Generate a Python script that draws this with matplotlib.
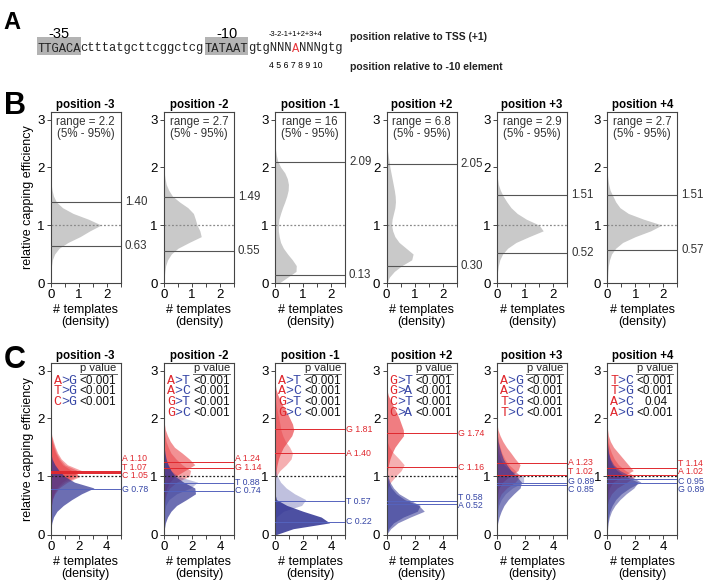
import numpy as np
import matplotlib
matplotlib.use("Agg")
import matplotlib.pyplot as plt
from matplotlib.patches import Rectangle
import matplotlib.transforms as mtransforms

plt.rcParams.update({"font.family": ["Liberation Sans", "DejaVu Sans"], "font.size": 9})

W, H = 711, 588
MONO = "Liberation Mono"
RED = "#e8383d"
BLUE = "#2e3192"
RED_TXT = "#e0282e"
BLUE_TXT = "#3646a6"
DARK = "#444444"

# ---------------------------------------------------------------------------
# data
# ---------------------------------------------------------------------------
# promoter sequence split in pieces: (text, highlighted, colour)
SEQ_PARTS = [("TTGACA", True, "#222"), ("ctttatgcttcggctcg", False, "#222"),
             ("TATAAT", True, "#222"), ("gtgNNN", False, "#222"),
             ("A", False, RED), ("NNNgtg", False, "#222")]
TSS_POS = "-3-2-1+1+2+3+4"
TEN_POS = "4 5 6 7 8 9 10"

POSITIONS = ["-3", "-2", "-1", "+2", "+3", "+4"]

# y grid (relative capping efficiency) at which the densities were read
Y = np.arange(27) / 10.0

# B: overall density per position
b_m3 = [0, 0, 0.01, 0.03, 0.06, 0.14, 0.3, 0.62, 1.05, 1.4,
        1.8, 1.35, 0.8, 0.42, 0.2, 0.1, 0.05, 0.02, 0.01, 0,
        0, 0, 0, 0, 0, 0, 0]
b_m2 = [0, 0.01, 0.03, 0.06, 0.13, 0.26, 0.5, 0.9, 1.33, 1.28,
        1.18, 1.12, 1.05, 0.85, 0.55, 0.3, 0.17, 0.08, 0.04, 0.01,
        0, 0, 0, 0, 0, 0, 0]
b_m1 = [0.15, 0.45, 0.75, 0.76, 0.62, 0.45, 0.3, 0.2, 0.15, 0.12,
        0.12, 0.14, 0.2, 0.27, 0.35, 0.42, 0.47, 0.48, 0.44, 0.35,
        0.2, 0.1, 0.05, 0.02, 0.01, 0, 0]
b_p2 = [0.02, 0.1, 0.28, 0.55, 0.9, 0.95, 0.7, 0.45, 0.3, 0.22,
        0.18, 0.2, 0.25, 0.3, 0.32, 0.31, 0.28, 0.24, 0.2, 0.16,
        0.12, 0.09, 0.06, 0.03, 0.01, 0, 0]
b_p3 = [0, 0, 0.02, 0.05, 0.1, 0.2, 0.38, 0.68, 1.15, 1.65,
        1.5, 1.05, 0.72, 0.5, 0.35, 0.22, 0.12, 0.05, 0.02, 0,
        0, 0, 0, 0, 0, 0, 0]
b_p4 = [0, 0.01, 0.02, 0.04, 0.08, 0.15, 0.3, 0.55, 1.0, 1.55,
        1.95, 1.3, 0.75, 0.45, 0.3, 0.2, 0.1, 0.05, 0.02, 0,
        0, 0, 0, 0, 0, 0, 0]
B_DENS = [b_m3, b_m2, b_m1, b_p2, b_p3, b_p4]
B_RANGE = ["2.2", "2.7", "16", "6.8", "2.9", "2.7"]
B_HIGH = [1.40, 1.49, 2.09, 2.05, 1.51, 1.51]
B_LOW = [0.63, 0.55, 0.13, 0.30, 0.52, 0.57]

# C: density per base at each position
c_m3_bases = ["A", "T", "C", "G"]
c_m3_med = [1.10, 1.07, 1.05, 0.78]
c_m3_dens = [
    [0, 0, 0, 0, 0.02, 0.05, 0.1, 0.2, 0.4, 0.8,
     1.5, 2.2, 1.2, 0.75, 0.5, 0.33, 0.2, 0.08, 0.02, 0,
     0, 0, 0, 0, 0, 0, 0],
    [0, 0, 0, 0, 0.02, 0.05, 0.1, 0.25, 0.5, 1.0,
     1.9, 1.9, 1.0, 0.65, 0.42, 0.27, 0.14, 0.05, 0.01, 0,
     0, 0, 0, 0, 0, 0, 0],
    [0, 0, 0, 0, 0.03, 0.06, 0.12, 0.3, 0.6, 1.2,
     2.1, 1.5, 0.85, 0.55, 0.35, 0.2, 0.1, 0.04, 0, 0,
     0, 0, 0, 0, 0, 0, 0],
    [0, 0.02, 0.08, 0.2, 0.45, 0.9, 1.5, 2.2, 3.1, 1.7,
     1.0, 0.6, 0.3, 0.1, 0.02, 0, 0, 0, 0, 0,
     0, 0, 0, 0, 0, 0, 0],
]
c_m3_tests = ["A>G", "T>G", "C>G"]
c_m3_p = ["<0.001", "<0.001", "<0.001"]

c_m2_bases = ["A", "G", "T", "C"]
c_m2_med = [1.24, 1.14, 0.88, 0.74]
c_m2_dens = [
    [0, 0, 0, 0, 0, 0.02, 0.05, 0.1, 0.2, 0.4,
     0.8, 1.5, 2.2, 1.8, 1.3, 0.75, 0.45, 0.25, 0.1, 0.03,
     0, 0, 0, 0, 0, 0, 0],
    [0, 0, 0, 0, 0, 0.03, 0.08, 0.18, 0.4, 0.9,
     1.8, 1.9, 1.3, 0.85, 0.5, 0.3, 0.15, 0.07, 0.02, 0,
     0, 0, 0, 0, 0, 0, 0],
    [0, 0, 0, 0.02, 0.05, 0.12, 0.35, 0.9, 1.9, 2.4,
     1.0, 0.5, 0.25, 0.12, 0.05, 0.02, 0, 0, 0, 0,
     0, 0, 0, 0, 0, 0, 0],
    [0, 0.03, 0.1, 0.25, 0.5, 0.9, 1.6, 2.25, 2.2, 1.4,
     0.8, 0.5, 0.3, 0.15, 0.07, 0.02, 0, 0, 0, 0,
     0, 0, 0, 0, 0, 0, 0],
]
c_m2_tests = ["A>T", "A>C", "G>T", "G>C"]
c_m2_p = ["<0.001", "<0.001", "<0.001", "<0.001"]

c_m1_bases = ["G", "A", "T", "C"]
c_m1_med = [1.81, 1.40, 0.57, 0.22]
c_m1_dens = [
    [0, 0, 0, 0, 0, 0, 0, 0, 0, 0,
     0.03, 0.08, 0.15, 0.25, 0.4, 0.6, 0.9, 1.2, 1.34, 1.25,
     1.05, 0.85, 0.6, 0.4, 0.2, 0.07, 0.01],
    [0, 0, 0, 0, 0, 0, 0, 0, 0, 0,
     0.08, 0.35, 0.8, 1.15, 1.25, 1.05, 0.75, 0.55, 0.42, 0.35,
     0.27, 0.18, 0.1, 0.05, 0.02, 0, 0],
    [0, 0, 0.02, 0.1, 0.6, 1.9, 2.2, 1.4, 0.8, 0.4,
     0.18, 0.06, 0.02, 0, 0, 0, 0, 0, 0, 0,
     0, 0, 0, 0, 0, 0, 0],
    [0.1, 1.3, 3.9, 3.3, 2.0, 0.85, 0.1, 0, 0, 0,
     0, 0, 0, 0, 0, 0, 0, 0, 0, 0,
     0, 0, 0, 0, 0, 0, 0],
]
c_m1_tests = ["A>T", "A>C", "G>T", "G>C"]
c_m1_p = ["<0.001", "<0.001", "<0.001", "<0.001"]

c_p2_bases = ["G", "C", "T", "A"]
c_p2_med = [1.74, 1.16, 0.58, 0.52]
c_p2_dens = [
    [0, 0, 0, 0, 0, 0, 0, 0, 0, 0,
     0.03, 0.08, 0.15, 0.25, 0.4, 0.6, 0.9, 1.22, 1.2, 1.05,
     0.9, 0.72, 0.5, 0.3, 0.12, 0.02, 0],
    [0, 0, 0, 0, 0, 0, 0, 0.03, 0.1, 0.3,
     0.65, 1.05, 1.26, 0.9, 0.5, 0.2, 0.05, 0, 0, 0,
     0, 0, 0, 0, 0, 0, 0],
    [0, 0.15, 0.5, 1.2, 2.2, 2.4, 1.6, 0.9, 0.5, 0.25,
     0.1, 0.03, 0, 0, 0, 0, 0, 0, 0, 0,
     0, 0, 0, 0, 0, 0, 0],
    [0, 0.3, 0.8, 1.7, 2.7, 2.3, 1.3, 0.7, 0.35, 0.15,
     0.05, 0, 0, 0, 0, 0, 0, 0, 0, 0,
     0, 0, 0, 0, 0, 0, 0],
]
c_p2_tests = ["G>T", "G>A", "C>T", "C>A"]
c_p2_p = ["<0.001", "<0.001", "<0.001", "<0.001"]

c_p3_bases = ["A", "T", "G", "C"]
c_p3_med = [1.23, 1.02, 0.89, 0.85]
c_p3_dens = [
    [0, 0, 0, 0, 0, 0, 0.02, 0.06, 0.15, 0.4,
     0.9, 1.5, 1.65, 1.3, 1.0, 0.68, 0.42, 0.22, 0.07, 0.01,
     0, 0, 0, 0, 0, 0, 0],
    [0, 0, 0, 0, 0.02, 0.05, 0.12, 0.3, 0.7, 1.3,
     1.65, 1.3, 0.85, 0.55, 0.35, 0.22, 0.1, 0.04, 0, 0,
     0, 0, 0, 0, 0, 0, 0],
    [0, 0, 0, 0.02, 0.05, 0.12, 0.3, 0.6, 1.1, 1.9,
     1.9, 1.0, 0.5, 0.25, 0.12, 0.04, 0, 0, 0, 0,
     0, 0, 0, 0, 0, 0, 0],
    [0, 0, 0.05, 0.15, 0.3, 0.5, 0.8, 1.2, 1.65, 1.75,
     1.4, 1.0, 0.7, 0.45, 0.3, 0.18, 0.08, 0.03, 0, 0,
     0, 0, 0, 0, 0, 0, 0],
]
c_p3_tests = ["A>G", "A>C", "T>G", "T>C"]
c_p3_p = ["<0.001", "<0.001", "<0.001", "<0.001"]

c_p4_bases = ["T", "A", "C", "G"]
c_p4_med = [1.14, 1.02, 0.95, 0.89]
c_p4_dens = [
    [0, 0, 0, 0, 0, 0, 0.02, 0.06, 0.15, 0.4,
     1.1, 1.85, 1.5, 1.15, 0.8, 0.45, 0.22, 0.08, 0.02, 0,
     0, 0, 0, 0, 0, 0, 0],
    [0, 0, 0, 0, 0, 0, 0.1, 0.3, 0.7, 1.4,
     2.0, 1.3, 0.8, 0.5, 0.3, 0.15, 0.05, 0, 0, 0,
     0, 0, 0, 0, 0, 0, 0],
    [0, 0, 0.03, 0.08, 0.18, 0.35, 0.6, 1.0, 1.6, 2.4,
     1.7, 0.9, 0.45, 0.22, 0.1, 0.04, 0, 0, 0, 0,
     0, 0, 0, 0, 0, 0, 0],
    [0, 0.02, 0.06, 0.15, 0.3, 0.55, 0.9, 1.35, 1.9, 2.2,
     1.3, 0.7, 0.35, 0.18, 0.08, 0.03, 0, 0, 0, 0,
     0, 0, 0, 0, 0, 0, 0],
]
c_p4_tests = ["T>C", "T>G", "A>C", "A>G"]
c_p4_p = ["<0.001", "<0.001", "0.04", "<0.001"]

C_BASES = [c_m3_bases, c_m2_bases, c_m1_bases, c_p2_bases, c_p3_bases, c_p4_bases]
C_MED = [c_m3_med, c_m2_med, c_m1_med, c_p2_med, c_p3_med, c_p4_med]
C_DENS = [c_m3_dens, c_m2_dens, c_m1_dens, c_p2_dens, c_p3_dens, c_p4_dens]
C_TESTS = [c_m3_tests, c_m2_tests, c_m1_tests, c_p2_tests, c_p3_tests, c_p4_tests]
C_P = [c_m3_p, c_m2_p, c_m1_p, c_p2_p, c_p3_p, c_p4_p]

# styling only: fill opacity per curve and label heights (nudged apart)
C_ALPHA = [[0.45, 0.45, 0.45, 0.7], [0.55, 0.45, 0.3, 0.7], [0.65, 0.4, 0.3, 0.85],
           [0.65, 0.4, 0.55, 0.55], [0.55, 0.4, 0.3, 0.6], [0.55, 0.45, 0.5, 0.5]]
C_LABEL_Y = [[1.30, 1.16, 1.02, 0.77], [1.30, 1.16, 0.89, 0.75], [1.81, 1.40, 0.57, 0.22],
             [1.74, 1.16, 0.64, 0.50], [1.23, 1.08, 0.92, 0.78], [1.22, 1.08, 0.92, 0.78]]

# ---------------------------------------------------------------------------
# layout helpers (pixels)
# ---------------------------------------------------------------------------
fig = plt.figure(figsize=(W / 100, H / 100), dpi=100)

def px_axes(left, top, width, height):
    return fig.add_axes([left / W, 1 - (top + height) / H, width / W, height / H])

LEFTS = [50.7, 164, 275, 386.5, 497, 607.3]
AX_W = 70
YMAX = 2.95

# ---------------------------------------------------------------------------
# A: promoter sequence
# ---------------------------------------------------------------------------
axA = fig.add_axes([0, 0, 1, 1])
axA.set_xlim(0, W); axA.set_ylim(H, 0); axA.axis("off")
x0, step = 37, 7.29          # 8.75 pt mono -> 7.29 px per character
i = 0
for txt, boxed, col in SEQ_PARTS:
    if boxed:
        axA.add_patch(Rectangle((x0 + i * step, 37), len(txt) * step, 18,
                                fc="#b3b3b3", ec="none", zorder=1))
    axA.text(x0 + i * step, 51.5, txt, family=MONO, fontsize=8.75,
             ha="left", va="baseline", color=col, zorder=2)
    i += len(txt)
axA.text(x0 + 3 * step, 37.5, "-35", fontsize=10.5, ha="center", va="baseline")
axA.text(x0 + 26 * step, 37.5, "-10", fontsize=10.5, ha="center", va="baseline")
axA.text(x0 + 35.5 * step, 36, TSS_POS, fontsize=5.4, ha="center", va="baseline")
axA.text(x0 + 35.5 * step, 68, TEN_POS, fontsize=6.3, ha="center", va="baseline")
axA.text(350, 39.5, "position relative to TSS (+1)", fontsize=7.5,
         fontweight="bold", va="baseline", color="#222")
axA.text(350, 70, "position relative to -10 element", fontsize=7.5,
         fontweight="bold", va="baseline", color="#222")
for lab, x, y, fs in [("A", 12, 22.5, 17), ("B", 15, 106, 22), ("C", 15, 360, 22)]:
    axA.text(x, y, lab, fontsize=fs, fontweight="bold", ha="center", va="center")


def style_axes(ax, xmax, xticks, xlabels, first):
    ax.set_xlim(0, xmax)
    ax.set_ylim(0, YMAX)
    ax.set_xticks(xticks)
    ax.set_xticklabels(xlabels)
    ax.set_yticks([0, 1, 2, 2.82])
    ax.set_yticklabels(["0", "1", "2", "3"])
    ax.tick_params(length=3, width=0.7, color=DARK, pad=1.5, labelsize=9.5)
    for s in ax.spines.values():
        s.set_color(DARK)
        s.set_linewidth(0.8)
    ax.set_facecolor("none")
    ax.set_xlabel("# templates\n(density)", fontsize=9, linespacing=1.0, labelpad=2)
    if first:
        ax.set_ylabel("relative capping efficiency", fontsize=9, labelpad=2)


# ---------------------------------------------------------------------------
# B: overall distributions
# ---------------------------------------------------------------------------
for j, pos in enumerate(POSITIONS):
    ax = px_axes(LEFTS[j], 112, AX_W, 171)
    style_axes(ax, 2.5, [0, 0.5, 1, 1.5, 2, 2.5], ["0", "", "1", "", "2", ""], j == 0)
    ax.fill_betweenx(Y, 0, B_DENS[j], color="#c9c9c9", lw=0, zorder=1)
    ax.axhline(1, color="#8a8a8a", lw=0.9, ls=(0, (1.5, 1.5)), zorder=2)
    tr = mtransforms.blended_transform_factory(ax.transAxes, ax.transData)
    for v in (B_HIGH[j], B_LOW[j]):
        ax.axhline(v, color="#555555", lw=0.8, zorder=3)
        ax.text(1 + 4 / AX_W, v, f"{v:.2f}", transform=tr, fontsize=8.3,
                ha="left", va="center", color="#333")
    ax.set_title(f"position {pos}", fontsize=8.3, fontweight="bold", pad=3)
    ax.text(0.5, 1 - 4 / 171, f"range = {B_RANGE[j]}\n(5% - 95%)",
            transform=ax.transAxes, ha="center", va="top", fontsize=8.3,
            linespacing=1.05, color="#333")

# ---------------------------------------------------------------------------
# C: distributions per base
# ---------------------------------------------------------------------------
CH = 171.5
for j, pos in enumerate(POSITIONS):
    ax = px_axes(LEFTS[j], 363, AX_W, CH)
    style_axes(ax, 5, [0, 1, 2, 3, 4, 5], ["0", "", "2", "", "4", ""], j == 0)
    bases, meds, dens = C_BASES[j], C_MED[j], C_DENS[j]
    order = sorted(range(len(bases)), key=lambda k: meds[k] < 1)
    for k in order:
        col = RED if meds[k] > 1 else BLUE
        ax.fill_betweenx(Y, 0, dens[k], color=col, alpha=C_ALPHA[j][k], lw=0, zorder=1)
    ax.axhline(1, color="#222", lw=0.9, ls=(0, (1.5, 1.5)), zorder=2)
    tr = mtransforms.blended_transform_factory(ax.transAxes, ax.transData)
    for k, b in enumerate(bases):
        up = meds[k] > 1
        ax.axhline(meds[k], color=RED_TXT if up else "#5563bd", lw=0.7, zorder=3)
        ax.text(1 + 1.2 / AX_W, C_LABEL_Y[j][k], f"{b} {meds[k]:.2f}", transform=tr,
                fontsize=6.3, ha="left", va="center",
                color=RED_TXT if up else BLUE_TXT)
    ax.set_title(f"position {pos}", fontsize=8.3, fontweight="bold", pad=3)

    # p value table
    fx = lambda px: px / AX_W
    fy = lambda py: 1 - py / CH
    ax.text(fx(AX_W - 4), fy(5.3), "p value", transform=ax.transAxes,
            fontsize=8, ha="right", va="center", color="#222")
    ax.plot([fx(29), fx(AX_W - 4)], [fy(10.5), fy(10.5)], transform=ax.transAxes,
            color="#666", lw=0.7, clip_on=False)
    for r, (t, p) in enumerate(zip(C_TESTS[j], C_P[j])):
        yy = fy(17.7 + r * 10.7)
        for c, (ch, colr) in enumerate(zip(t, [RED_TXT, BLUE_TXT, BLUE_TXT])):
            ax.text(fx(3 + c * 7.4), yy, ch, transform=ax.transAxes, family=MONO,
                    fontsize=9.5, ha="left", va="center", color=colr)
        ax.text(fx(29 if p.startswith("<") else 37), yy, p, transform=ax.transAxes,
                fontsize=8.5, ha="left", va="center", color="#111")

fig.savefig("out.png", dpi=100)
